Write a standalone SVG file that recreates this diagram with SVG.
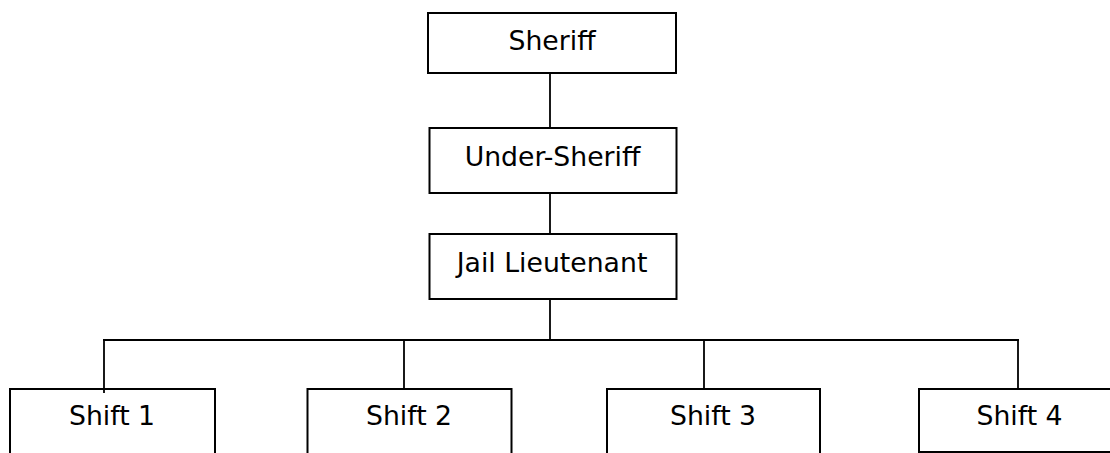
<svg xmlns="http://www.w3.org/2000/svg" width="1110" height="453" viewBox="0 0 1110 453">
<style>
.box{fill:#fff;stroke:#000;stroke-width:2}
.lbl{font-family:"DejaVu Sans",Verdana,sans-serif;font-size:26.7px;fill:#000;text-anchor:middle}
.ln{stroke:#000;stroke-width:1.8;fill:none}
</style>
<rect width="1110" height="453" fill="#fff"/>
<g id="connectors">
<line class="ln" x1="550" y1="73" x2="550" y2="128"/>
<line class="ln" x1="550" y1="193" x2="550" y2="234"/>
<line class="ln" x1="550" y1="299" x2="550" y2="340"/>
<line class="ln" x1="103" y1="340" x2="1019" y2="340"/>
<line class="ln" x1="104" y1="340" x2="104" y2="393"/>
<line class="ln" x1="404" y1="340" x2="404" y2="393"/>
<line class="ln" x1="704" y1="340" x2="704" y2="393"/>
<line class="ln" x1="1018" y1="340" x2="1018" y2="393"/>
</g>
<g id="sheriff"><rect class="box" x="428" y="13" width="248" height="60"/><text class="lbl" x="552" y="50">Sheriff</text></g>
<g id="under-sheriff"><rect class="box" x="429.5" y="128" width="247" height="65"/><text class="lbl" x="552.5" y="166">Under-Sheriff</text></g>
<g id="jail-lieutenant"><rect class="box" x="429.5" y="234" width="247" height="65"/><text class="lbl" x="552" y="272">Jail Lieutenant</text></g>
<g id="shift1"><rect class="box" x="10" y="389" width="205" height="80"/><text class="lbl" x="112" y="425">Shift 1</text></g>
<g id="shift2"><rect class="box" x="307.5" y="389" width="204" height="80"/><text class="lbl" x="409" y="425">Shift 2</text></g>
<g id="shift3"><rect class="box" x="607" y="389" width="213" height="80"/><text class="lbl" x="713" y="425">Shift 3</text></g>
<g id="shift4"><rect class="box" x="919" y="389" width="202" height="63"/><text class="lbl" x="1019.5" y="425">Shift 4</text></g>
<line class="ln" x1="104" y1="389" x2="104" y2="393"/>
</svg>
